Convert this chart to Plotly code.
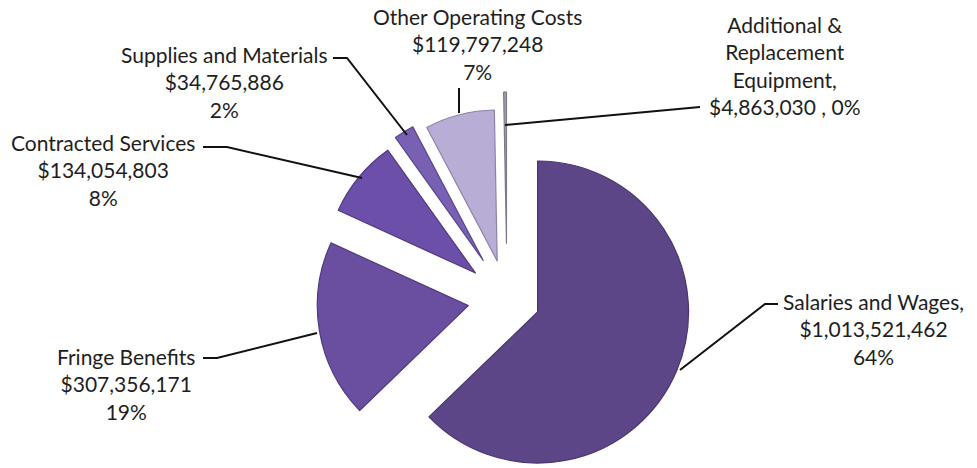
import numpy as np
import plotly.graph_objects as go

# ---- data ----
categories = ["Salaries and Wages", "Fringe Benefits", "Contracted Services",
              "Supplies and Materials", "Other Operating Costs",
              "Additional & Replacement Equipment"]
amounts = [1013521462, 307356171, 134054803, 34765886, 119797248, 4863030]
pct_labels = ["64%", "19%", "8%", "2%", "7%", "0%"]

# ---- style ----
W, H = 977, 468
colors = ["#5d4687", "#6a4fa1", "#6b4fa8", "#7860b3", "#b8aed5", "#a29fae"]
edge_colors = ["#4a376e", "#503a80", "#50397f", "#5b4590", "#8d82ad", "#7d7a88"]
pulls = [0.22, 0.26, 0.27, 0.30, 0.26, 0.37]   # explode, fraction of radius
CX, CY, R = 507, 299, 151                        # pie centre / radius (px)
FONT = dict(family="Lato, 'Open Sans', sans-serif", size=21, color="#1e1e1e")

vals = np.array(amounts, dtype=float)
total = vals.sum()
start = (np.cumsum(vals) - vals) / total * 360.0
mid = np.radians(start + vals / total * 180.0)

fig = go.Figure()
for i in range(len(categories)):
    vx = CX + pulls[i] * R * np.sin(mid[i])
    vy = CY - pulls[i] * R * np.cos(mid[i])
    dx = [max(0, (vx - R) / W), min(1, (vx + R) / W)]
    dy = [max(0, 1 - (vy + R) / H), min(1, 1 - (vy - R) / H)]
    fc = ["rgba(0,0,0,0)"] * len(categories)
    lc = ["rgba(0,0,0,0)"] * len(categories)
    fc[i] = colors[i]
    lc[i] = edge_colors[i]
    fig.add_trace(go.Pie(
        labels=categories, values=amounts, sort=False, direction="clockwise",
        rotation=0, textinfo="none", hoverinfo="skip", showlegend=False,
        marker=dict(colors=fc, line=dict(color=lc, width=1.2)),
        domain=dict(x=dx, y=dy),
    ))

def money(v):
    return "${:,}".format(v)

label_text = [
    f"Salaries and Wages,<br>{money(amounts[0])}<br>{pct_labels[0]}",
    f"Fringe Benefits<br>{money(amounts[1])}<br>{pct_labels[1]}",
    f"Contracted Services<br>{money(amounts[2])}<br>{pct_labels[2]}",
    f"Supplies and Materials<br>{money(amounts[3])}<br>{pct_labels[3]}",
    f"Other Operating Costs<br>{money(amounts[4])}<br>{pct_labels[4]}",
    f"Additional &<br>Replacement<br>Equipment,<br>{money(amounts[5])} , {pct_labels[5]}",
]
label_pos = [(873, 329), (126, 384), (103, 170), (224, 82), (477, 44), (785, 66)]

for t, (px, py) in zip(label_text, label_pos):
    fig.add_annotation(x=px / W, y=1 - py / H, xref="paper", yref="paper",
                       text=t, showarrow=False, align="center",
                       xanchor="center", yanchor="middle", font=FONT)

leaders = [
    [(778, 304), (765, 304), (680, 370)],
    [(203, 358), (217, 358), (317, 333)],
    [(203, 147), (227, 147), (362, 178)],
    [(333, 58), (347, 58), (407, 135)],
    [(459, 88), (459, 113)],
    [(700, 107), (505, 125)],
]
for pts in leaders:
    path = "M " + " L ".join(f"{x / W:.5f},{1 - y / H:.5f}" for x, y in pts)
    fig.add_shape(type="path", path=path, xref="paper", yref="paper",
                  line=dict(color="#111111", width=2))

fig.update_layout(width=W, height=H, margin=dict(l=0, r=0, t=0, b=0),
                  paper_bgcolor="white", plot_bgcolor="white")
fig.write_html("out.html")
